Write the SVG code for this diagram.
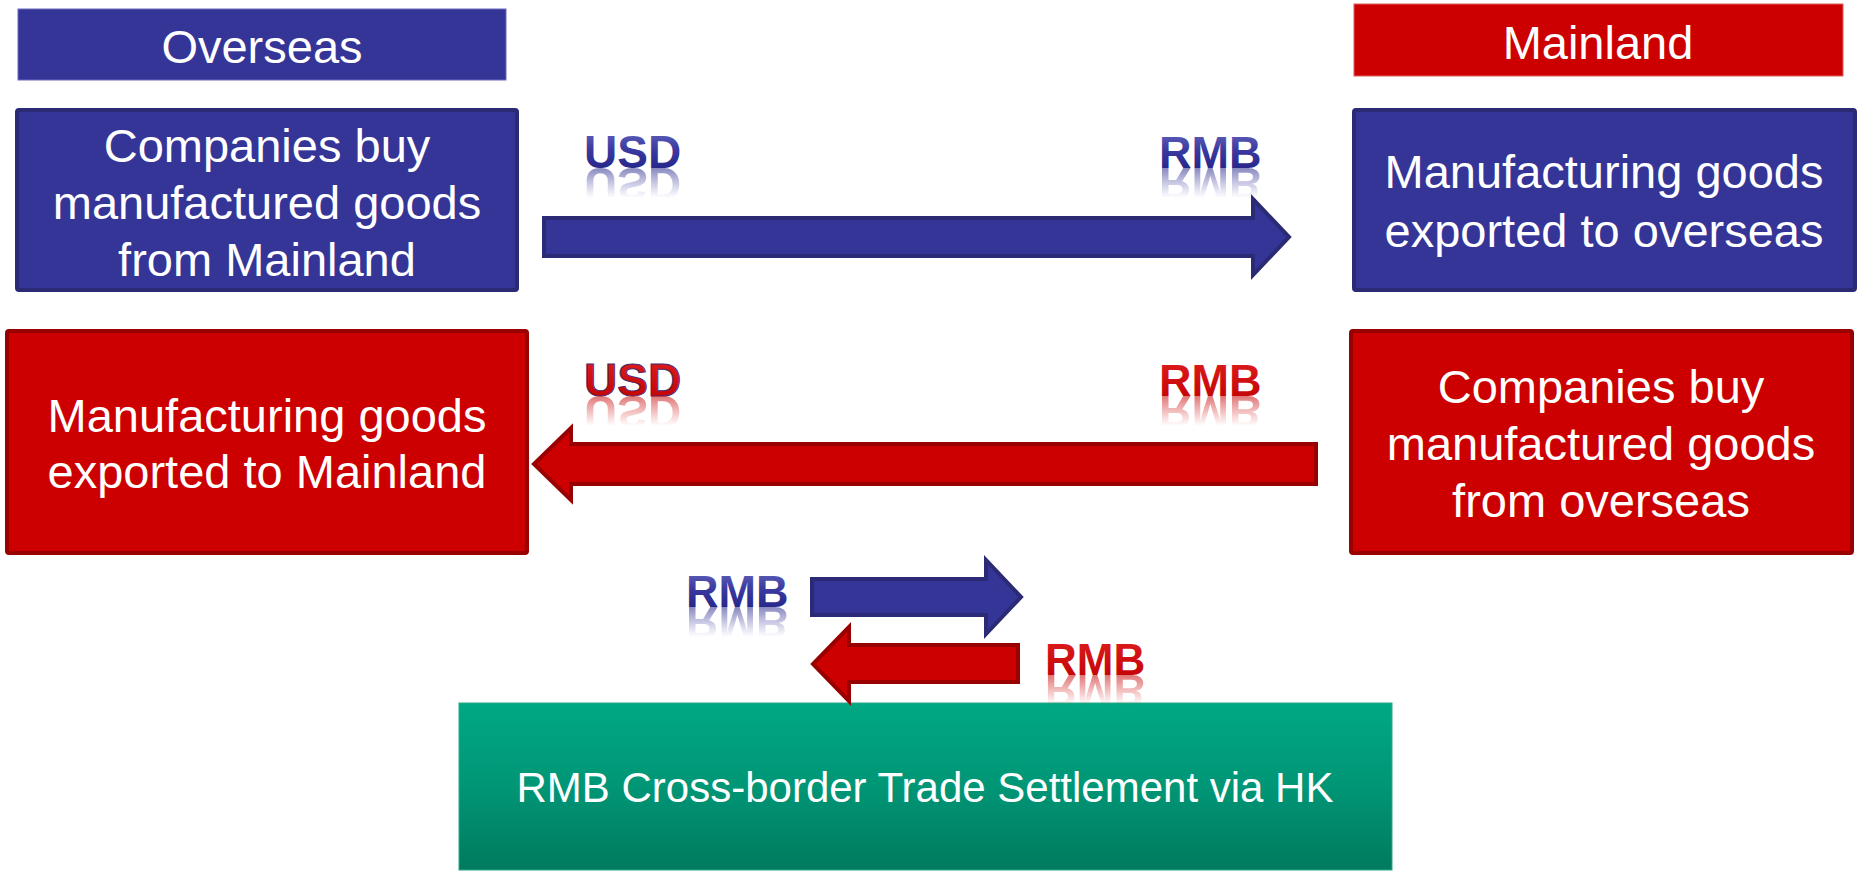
<svg xmlns="http://www.w3.org/2000/svg" xmlns:xlink="http://www.w3.org/1999/xlink" width="1865" height="874" viewBox="0 0 1865 874">
  <style>
    .lbl { font-family: "Liberation Sans", Arial, sans-serif; font-size: 47px; fill: #ffffff; text-anchor: middle; }
    .hk { font-family: "Liberation Sans", Arial, sans-serif; font-size: 42px; fill: #ffffff; text-anchor: middle; }
    .cur { font-family: "Liberation Sans", Arial, sans-serif; font-size: 46px; font-weight: bold; }
    .blueBox { fill: #353598; stroke: #2a2a75; stroke-width: 4; }
    .redBox { fill: #cc0000; stroke: #990000; stroke-width: 4; }
    .blueArrow { fill: #353598; stroke: #2a2a75; stroke-width: 4; stroke-linejoin: miter; }
    .redArrow { fill: #cc0000; stroke: #990000; stroke-width: 4; stroke-linejoin: miter; }
    .bCur { fill: url(#gBlueCur); }
    .rCur { fill: url(#gRedCur); }
    .rCurEdge { fill: url(#gRedCur); stroke: #4a2a70; stroke-width: 1; }
  </style>
  <defs>
    <linearGradient id="gBlueCur" x1="0" y1="0" x2="0" y2="1">
      <stop offset="0" stop-color="#6a6ac0"/>
      <stop offset="0.45" stop-color="#3a3aa0"/>
      <stop offset="1" stop-color="#1c1c80"/>
    </linearGradient>
    <linearGradient id="gRedCur" x1="0" y1="0" x2="0" y2="1">
      <stop offset="0" stop-color="#e02020"/>
      <stop offset="1" stop-color="#c00000"/>
    </linearGradient>
    <linearGradient id="gFade" gradientUnits="userSpaceOnUse" x1="0" y1="0" x2="0" y2="30">
      <stop offset="0" stop-color="#ffffff" stop-opacity="0.55"/>
      <stop offset="1" stop-color="#ffffff" stop-opacity="0"/>
    </linearGradient>
    <mask id="mRefl" maskUnits="userSpaceOnUse" x="-20" y="-5" width="170" height="45">
      <rect x="-20" y="0" width="170" height="40" fill="url(#gFade)"/>
    </mask>
    <linearGradient id="gGreen" x1="0" y1="0" x2="0" y2="1">
      <stop offset="0" stop-color="#00a884"/>
      <stop offset="0.5" stop-color="#009676"/>
      <stop offset="1" stop-color="#007a5e"/>
    </linearGradient>
  </defs>

  <!-- column headers -->
  <g id="hdr-overseas">
    <rect x="18" y="9" width="488" height="71" fill="#353598" stroke="#6b6bc0" stroke-width="1"/>
    <text class="lbl" x="262" y="63">Overseas</text>
  </g>
  <g id="hdr-mainland">
    <rect x="1354" y="4" width="489" height="72" fill="#cc0000" stroke="#e06060" stroke-width="1"/>
    <text class="lbl" x="1598" y="59">Mainland</text>
  </g>

  <!-- trade parties -->
  <g id="box-overseas-buy">
    <rect class="blueBox" x="17" y="110" width="500" height="180" rx="2"/>
    <text class="lbl" x="267" y="162">Companies buy</text>
    <text class="lbl" x="267" y="219">manufactured goods</text>
    <text class="lbl" x="267" y="276">from Mainland</text>
  </g>
  <g id="box-mainland-export">
    <rect class="blueBox" x="1354" y="110" width="501" height="180" rx="2"/>
    <text class="lbl" x="1604" y="188">Manufacturing goods</text>
    <text class="lbl" x="1604" y="247">exported to overseas</text>
  </g>
  <g id="box-overseas-export">
    <rect class="redBox" x="7" y="331" width="520" height="222" rx="2"/>
    <text class="lbl" x="267" y="432">Manufacturing goods</text>
    <text class="lbl" x="267" y="488">exported to Mainland</text>
  </g>
  <g id="box-mainland-buy">
    <rect class="redBox" x="1351" y="331" width="501" height="222" rx="2"/>
    <text class="lbl" x="1601" y="403">Companies buy</text>
    <text class="lbl" x="1601" y="460">manufactured goods</text>
    <text class="lbl" x="1601" y="517">from overseas</text>
  </g>
  <g id="box-hk">
    <rect x="459" y="703" width="933" height="167" fill="url(#gGreen)" stroke="#2aa888" stroke-width="1"/>
    <text class="hk" x="925" y="802">RMB Cross-border Trade Settlement via HK</text>
  </g>

  <!-- flows -->
  <g id="connectors">
    <polygon class="blueArrow" points="544,218 1253,218 1253,199 1289,237 1253,275 1253,256 544,256"/>
    <polygon class="redArrow" points="1316,444 571,444 571,428 534,464 571,500 571,484 1316,484"/>
    <polygon class="blueArrow" points="812,579 986,579 986,560 1021,597 986,634 986,615 812,615"/>
    <polygon class="redArrow" points="1018,645 849,645 849,627 813,664 849,701 849,682 1018,682"/>
  </g>

  <!-- currency labels with mirrored reflections -->
  <g id="cur-usd-top" transform="translate(584,168)">
    <text class="cur bCur" x="0" y="0">USD</text>
    <g mask="url(#mRefl)"><text class="cur bCur" x="0" y="0" transform="scale(1,-1)">USD</text></g>
  </g>
  <g id="cur-rmb-top" transform="translate(1159,168)">
    <text class="cur bCur" x="0" y="0" style="font-size:45px">RMB</text>
    <g mask="url(#mRefl)"><text class="cur bCur" x="0" y="0" style="font-size:45px" transform="scale(1,-1)">RMB</text></g>
  </g>
  <g id="cur-usd-mid" transform="translate(584,396)">
    <text class="cur rCurEdge" x="0" y="0">USD</text>
    <g mask="url(#mRefl)"><text class="cur rCur" x="0" y="0" transform="scale(1,-1)">USD</text></g>
  </g>
  <g id="cur-rmb-mid" transform="translate(1159,396)">
    <text class="cur rCur" x="0" y="0" style="font-size:45px">RMB</text>
    <g mask="url(#mRefl)"><text class="cur rCur" x="0" y="0" style="font-size:45px" transform="scale(1,-1)">RMB</text></g>
  </g>
  <g id="cur-rmb-hk-out" transform="translate(686,607)">
    <text class="cur bCur" x="0" y="0" style="font-size:45px">RMB</text>
    <g mask="url(#mRefl)"><text class="cur bCur" x="0" y="0" style="font-size:45px" transform="scale(1,-1)">RMB</text></g>
  </g>
  <g id="cur-rmb-hk-in" transform="translate(1045,675)">
    <text class="cur rCur" x="0" y="0" style="font-size:44px">RMB</text>
    <g mask="url(#mRefl)"><text class="cur rCur" x="0" y="0" style="font-size:44px" transform="scale(1,-1)">RMB</text></g>
  </g>
</svg>
